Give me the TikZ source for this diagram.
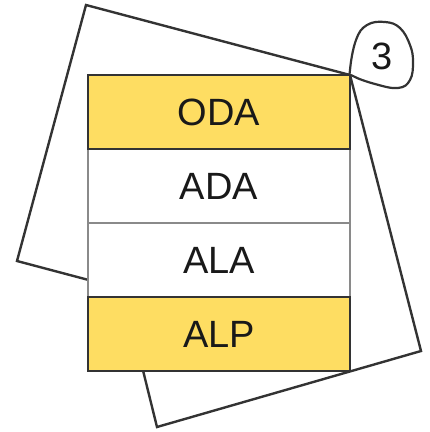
\documentclass[tikz,border=0pt]{standalone}
\usepackage{fontspec}
\setmainfont{Liberation Sans}
\definecolor{tabyellow}{HTML}{FEDD62}
\definecolor{inkgray}{HTML}{333333}
\definecolor{rulegray}{HTML}{8A8A8A}
\tikzstyle{frame} = [draw=inkgray,line width=2.4pt,line join=miter]
\tikzstyle{whiterow} = [draw=rulegray,line width=1.8pt,fill=white,minimum width=262pt,minimum height=74pt,inner sep=0pt,font=\fontsize{38}{38}\selectfont,text=black!90]
\tikzstyle{yellowrow} = [whiterow,draw=inkgray,line width=2.4pt,fill=tabyellow]
\tikzstyle{badge} = [draw=inkgray,line width=2.2pt,fill=white]

\begin{document}
\begin{tikzpicture}[x=1pt,y=-1pt]
	\useasboundingbox (0,0) rectangle (430,432);
	\coordinate (pivot) at (350,75);
	% the two tilted sheets behind the stack
	\draw[frame] (86,5) -- (pivot) -- (281,331) -- (17,261) -- cycle;
	\draw[frame] (pivot) -- (421,351) -- (157,427) -- (89,152) -- cycle;
	\node[whiterow] (ada) at (219,186) {ADA};
	\node[whiterow] (ala) at (219,260) {ALA};
	\node[yellowrow] (oda) at (219,112) {ODA};
	\node[yellowrow] (alp) at (219,334) {ALP};
	\draw[badge] plot[smooth cycle,tension=0.7] coordinates {(350,70) (356,40) (367,25) (385,22) (400,28) (410,45) (413,62) (410,80) (398,88) (375,84) (353,76)};
	\node[font=\fontsize{38}{38}\selectfont,text=black!90] (three) at (382,56) {3};
	\end{tikzpicture}
\end{document}
